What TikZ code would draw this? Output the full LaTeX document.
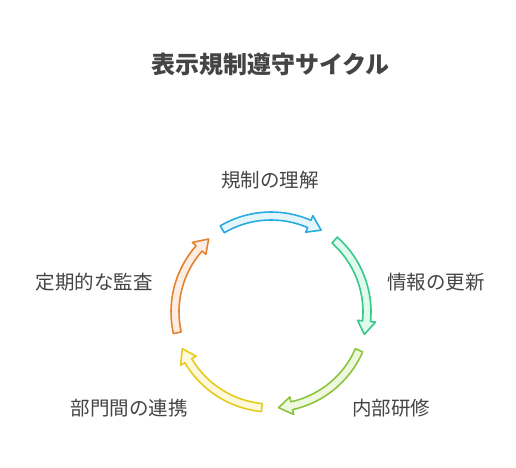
\documentclass[tikz,border=0pt]{standalone}
\usepackage{fontspec}
\setmainfont{Noto Sans CJK JP}
\definecolor{txt}{HTML}{444444}
\definecolor{sBlue}{HTML}{29ABE2}\definecolor{fBlue}{HTML}{E4F6FD}
\definecolor{sGreen}{HTML}{35C98A}\definecolor{fGreen}{HTML}{E0FAEE}
\definecolor{sLime}{HTML}{8DC43F}\definecolor{fLime}{HTML}{EEF8DE}
\definecolor{sYellow}{HTML}{E6CB1E}\definecolor{fYellow}{HTML}{FDF9DA}
\definecolor{sOrange}{HTML}{E5822E}\definecolor{fOrange}{HTML}{FDEDE2}
\tikzset{
  cyclearrow/.style={line width=1.6bp, line join=round},
  lbl/.style={text=txt, font=\fontsize{19.5bp}{22bp}\selectfont, inner sep=0pt},
  ttl/.style={text=txt, font=\fontsize{24bp}{28bp}\selectfont\bfseries, inner sep=0pt}
}
\begin{document}
\begin{tikzpicture}[x=1bp,y=1bp]
\useasboundingbox (0,0) rectangle (516,468);
\node[ttl] (title) at (270.5,404) {表示規制遵守サイクル};
\coordinate (C) at (271,156);
\foreach \a/\sc/\fc in {90/sBlue/fBlue, 18/sGreen/fGreen, -54/sLime/fLime, -126/sYellow/fYellow, 162/sOrange/fOrange}{
  \pgfmathsetmacro\t{\a+30.5}
  \pgfmathsetmacro\h{\a-23.5}
  \pgfmathsetmacro\p{\a-31.5}
  \draw[cyclearrow, draw=\sc, fill=\fc, shift={(C)}]
    (\t:100) arc[start angle=\t, end angle=\h, radius=100]
    -- (\h:105) -- (\p:96) -- (\h:87) -- (\h:92)
    arc[start angle=\h, end angle=\t, radius=92] -- cycle;
}
\node[lbl] (l1) at (270,288) {規制の理解};
\node[lbl] (l2) at (436,186) {情報の更新};
\node[lbl] (l3) at (391,59.5) {内部研修};
\node[lbl] (l4) at (129,59.5) {部門間の連携};
\node[lbl] (l5) at (94,186) {定期的な監査};
\end{tikzpicture}
\end{document}
